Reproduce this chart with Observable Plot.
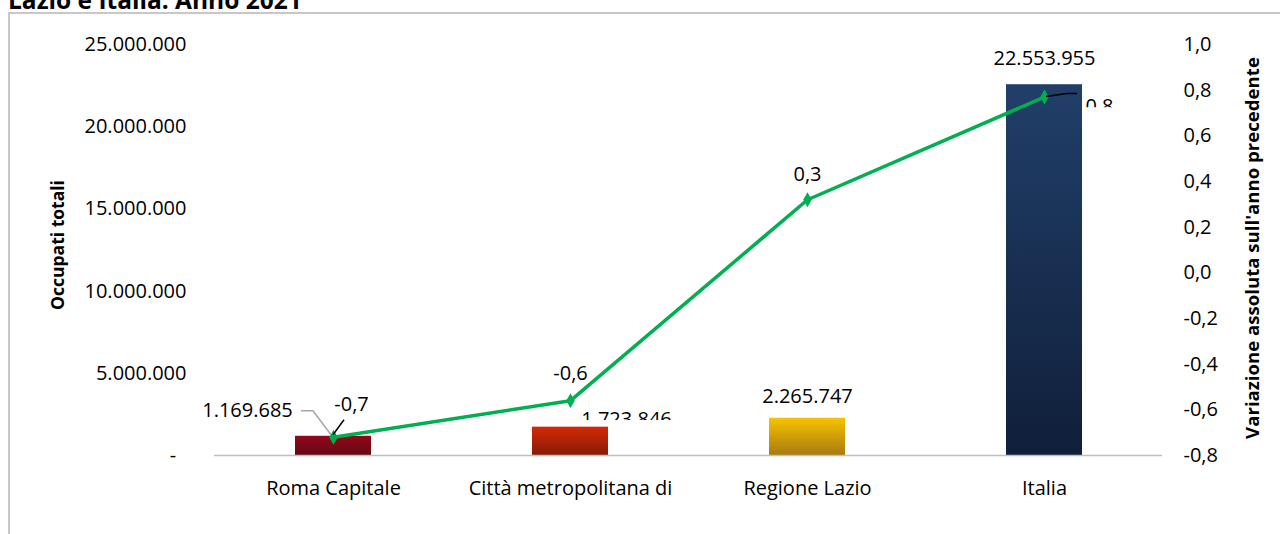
<!DOCTYPE html>
<html><head><meta charset="utf-8">
<script src="https://cdn.jsdelivr.net/npm/d3@7"></script>
<script src="https://cdn.jsdelivr.net/npm/@observablehq/plot@0.6"></script>
<style>
body{margin:0;background:#fff;}
#wrap{position:relative;width:1280px;height:534px;overflow:hidden;font-family:"Open Sans",sans-serif;}
#title{position:absolute;left:8px;top:-10px;font-size:24.5px;font-weight:bold;line-height:20px;white-space:nowrap;z-index:2;color:#000}
#frame{position:absolute;left:8px;top:12px;width:1400px;height:700px;border:2px solid #c8c8c8;z-index:1;pointer-events:none}
#chart{position:absolute;left:0;top:0}
</style></head>
<body><div id="wrap"><div id="title">Lazio e Italia. Anno 2021</div><div id="frame"></div><div id="chart"></div></div>
<script>
// ---- data ----
const categories = ["Roma Capitale", "Città metropolitana di", "Regione Lazio", "Italia"];
const occupati = [1169685, 1723846, 2265747, 22553955];
const variazione = [-0.72, -0.56, 0.32, 0.77];
const variazioneLabels = ["-0,7", "-0,6", "0,3", "0,8"];
const gradientTop = ["#92081c", "#d42a02", "#f7c300", "#213f69"];
const gradientBottom = ["#650812", "#861a06", "#a97a10", "#101f3a"];
const leftTicks = [0, 5000000, 10000000, 15000000, 20000000, 25000000];
const rightTicks = [-0.8, -0.6, -0.4, -0.2, 0, 0.2, 0.4, 0.6, 0.8, 1.0];
const leftTitle = "Occupati totali";
const rightTitle = "Variazione assoluta sull'anno precedente";

// ---- scales helpers ----
const yMax = 25000000, rMin = -0.8, rMax = 1.0;
const toY = v => (v - rMin) / (rMax - rMin) * yMax;
const fmtL = v => v === 0 ? "-\u00a0\u00a0" : d3.format(",d")(v).replace(/,/g, ".");
const fmtR = y => { let v = Math.round((y / yMax * (rMax - rMin) + rMin) * 10) / 10; return v.toFixed(1).replace(".", ","); };

const data = categories.map((c, i) => ({
  cat: c, occ: occupati[i], vy: toY(variazione[i]),
  vlab: variazioneLabels[i], olab: fmtL(occupati[i]), fill: `url(#grad${i})`
}));

// label offsets (layout)
const occOffsets = [[-86, -26], [56, -8], [0, -22], [0, -26]];
const varOffsets = [[18, -33], [0, -27], [0, -25], [55, 9.5]];
const clipped = { occ: [1], vr: [3] };

const labelMarks = [];
data.forEach((d, i) => {
  labelMarks.push(Plot.text([d], {x: "cat", y: "occ", text: "olab", dx: occOffsets[i][0], dy: occOffsets[i][1],
    fill: "#000", fontSize: 20, ariaDescription: clipped.occ.includes(i) ? "clip-label" : "label"}));
  labelMarks.push(Plot.text([d], {x: "cat", y: "vy", text: "vlab", dx: varOffsets[i][0], dy: varOffsets[i][1],
    fill: "#000", fontSize: 20, ariaDescription: clipped.vr.includes(i) ? "clip-label" : "label"}));
});

const plot = Plot.plot({
  width: 1280, height: 534,
  marginTop: 44, marginBottom: 79, marginLeft: 214, marginRight: 118,
  style: {fontFamily: '"Open Sans", sans-serif', fontSize: "20px", color: "#000", background: "transparent"},
  x: {domain: categories, paddingInner: 0.68, paddingOuter: 0.34, label: null},
  y: {domain: [0, yMax], label: null},
  color: {type: "identity"},
  marks: [
    Plot.barY(data, {x: "cat", y: "occ", fill: "fill"}),
    Plot.ruleY([0], {stroke: "#bfbfbf", strokeWidth: 1.5}),
    Plot.axisX({tickSize: 0, tickPadding: 25, label: null, fontSize: 20}),
    Plot.axisY(leftTicks, {anchor: "left", tickSize: 0, tickPadding: 28, tickFormat: fmtL, label: null, fontSize: 20}),
    Plot.axisY(rightTicks.map(toY), {anchor: "right", tickSize: 0, tickPadding: 21, tickFormat: fmtR, label: null, fontSize: 20}),
    Plot.line(data, {x: "cat", y: "vy", stroke: "#00b050", strokeWidth: 3.5}),
    Plot.dot(data, {x: "cat", y: "vy", symbol: "diamond", r: 4.5, fill: "#00b050"}),
    ...labelMarks,
    Plot.text([leftTitle], {frameAnchor: "left", dx: -156, dy: -5, rotate: -90, textAnchor: "middle", fontWeight: "bold", fontSize: 17.5}),
    Plot.text([rightTitle], {frameAnchor: "right", dx: 91, dy: -2, rotate: -90, textAnchor: "middle", fontWeight: "bold", fontSize: 18.6})
  ]
});
document.getElementById("chart").appendChild(plot);

const svg = d3.select(plot);
const defs = svg.insert("defs", ":first-child");
gradientTop.forEach((c, i) => {
  const g = defs.append("linearGradient").attr("id", `grad${i}`).attr("x1", 0).attr("y1", 0).attr("x2", 0).attr("y2", 1);
  g.append("stop").attr("offset", "0%").attr("stop-color", c);
  g.append("stop").attr("offset", "100%").attr("stop-color", gradientBottom[i]);
});

// clip partially hidden labels
svg.selectAll('g[aria-description="clip-label"] text').each(function(_, i) {
  const bb = this.getBBox();
  const id = `clipLab${i}`;
  defs.append("clipPath").attr("id", id).attr("clipPathUnits", "userSpaceOnUse")
    .append("rect").attr("x", bb.x - 3).attr("y", bb.y - 3).attr("width", bb.width + 6).attr("height", bb.height * 0.57 + 3);
  this.setAttribute("clip-path", `url(#${id})`);
});

// leader lines
const xs = plot.scale("x"), ys = plot.scale("y");
const cx = c => xs.apply(c) + xs.bandwidth / 2;
const leaders = [
  {i: 0, v: "vy", stroke: "#a6a6a6", pts: [[-32, -26], [-20, -26], [-2, -2]]},
  {i: 0, v: "vy", stroke: "#000", pts: [[11, -17], [0, -2]]},
  {i: 3, v: "vy", stroke: "#000", pts: [[2, 0], [23, -3], [33, -3]]}
];
const lg = svg.append("g").attr("fill", "none").attr("stroke-width", 1.5);
leaders.forEach(l => {
  const d = data[l.i];
  const px = cx(d.cat), py = ys.apply(d[l.v]);
  lg.append("path").attr("stroke", l.stroke).attr("d", d3.line()(l.pts.map(([a, b]) => [px + a, py + b])));
});
</script>
</body></html>
